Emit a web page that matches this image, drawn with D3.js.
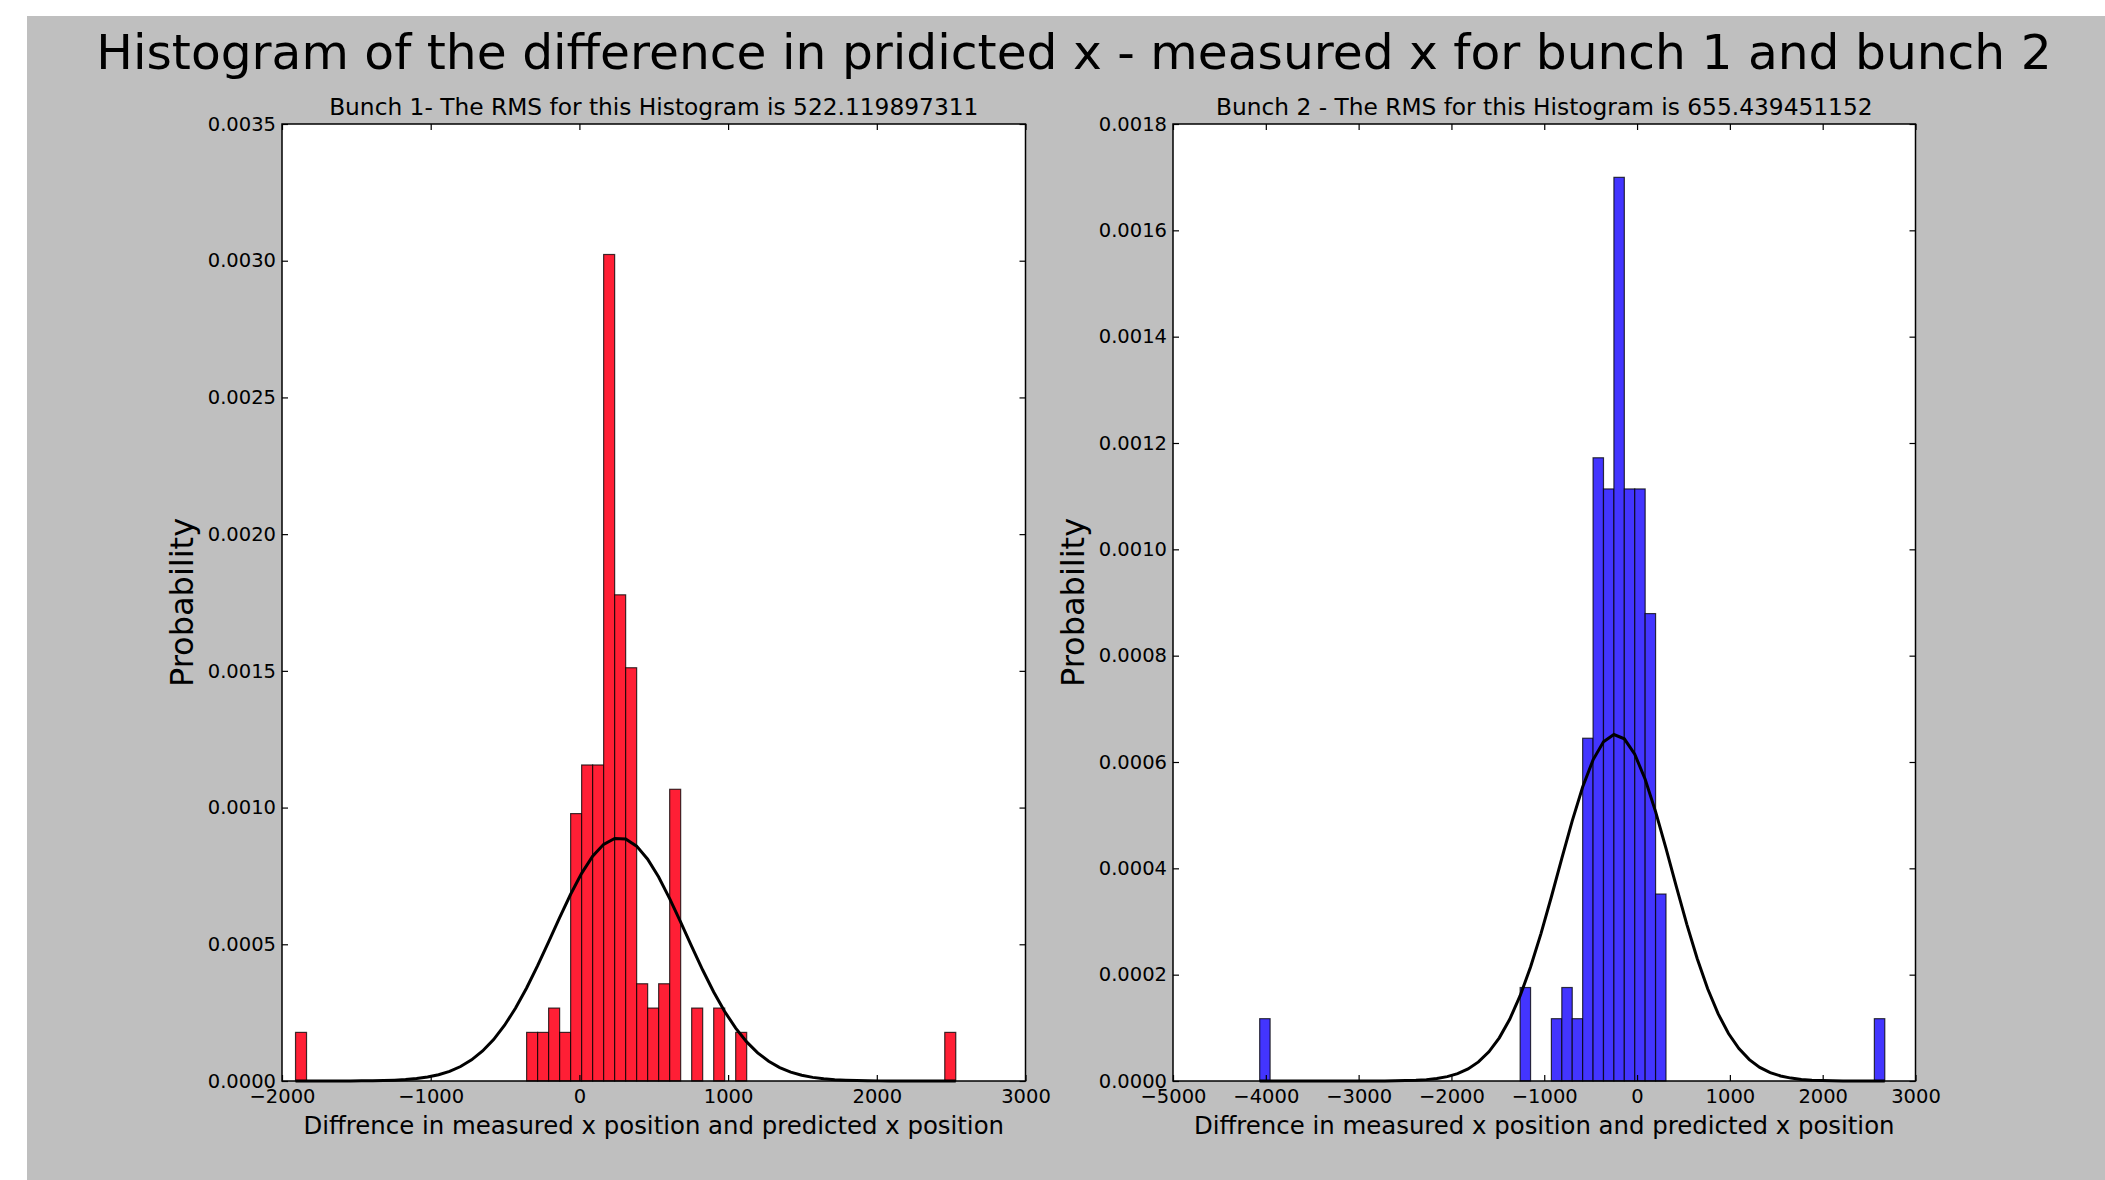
<!DOCTYPE html>
<html>
<head>
<meta charset="utf-8">
<script src="https://cdn.jsdelivr.net/npm/d3@7"></script>
<style>
  body { margin: 0; background: #fff; }
  svg { display: block; font-family: "DejaVu Sans", sans-serif; }
</style>
</head>
<body>
<svg id="chart" width="2105" height="1180"></svg>
<script>
const suptitle = "Histogram of the difference in pridicted x - measured x for bunch 1 and bunch 2";
const xLabel = "Diffrence in measured x position and predicted x position";
const yLabel = "Probability";

// bunch 1: 60 bins between min and max of the data
const bunch1Title = "Bunch 1- The RMS for this Histogram is 522.119897311";
const bunch1Range = [-1909, 2531];
const bunch1Counts = [
  2, 0, 0, 0, 0, 0, 0, 0, 0, 0,
  0, 0, 0, 0, 0, 0, 0, 0, 0, 0,
  0, 2, 2, 3, 2, 11, 13, 13, 34, 20,
  17, 4, 3, 4, 12, 0, 3, 0, 3, 0,
  2, 0, 0, 0, 0, 0, 0, 0, 0, 0,
  0, 0, 0, 0, 0, 0, 0, 0, 0, 2
];
const bunch1Mu = 267;
const bunch1Sigma = 448.7;
const bunch1XTicks = [-2000, -1000, 0, 1000, 2000, 3000];
const bunch1YTicks = [0, 0.0005, 0.0010, 0.0015, 0.0020, 0.0025, 0.0030, 0.0035];

// bunch 2
const bunch2Title = "Bunch 2 - The RMS for this Histogram is 655.439451152";
const bunch2Range = [-4066, 2669];
const bunch2Counts = [
  2, 0, 0, 0, 0, 0, 0, 0, 0, 0,
  0, 0, 0, 0, 0, 0, 0, 0, 0, 0,
  0, 0, 0, 0, 0, 3, 0, 0, 2, 3,
  2, 11, 20, 19, 29, 19, 19, 15, 6, 0,
  0, 0, 0, 0, 0, 0, 0, 0, 0, 0,
  0, 0, 0, 0, 0, 0, 0, 0, 0, 2
];
const bunch2Mu = -235;
const bunch2Sigma = 612;
const bunch2XTicks = [-5000, -4000, -3000, -2000, -1000, 0, 1000, 2000, 3000];
const bunch2YTicks = [0, 0.0002, 0.0004, 0.0006, 0.0008, 0.0010, 0.0012, 0.0014, 0.0016, 0.0018];

const svg = d3.select("#chart");

svg.append("rect")
    .attr("x", 27).attr("y", 16)
    .attr("width", 2105 - 27).attr("height", 1180 - 16)
    .attr("fill", "#bfbfbf");

svg.append("text")
    .attr("x", 1074).attr("y", 69)
    .attr("text-anchor", "middle")
    .attr("font-size", 48.7)
    .attr("fill", "#000")
    .text(suptitle);

const normpdf = (x, mu, sigma) =>
  Math.exp(-0.5 * ((x - mu) / sigma) ** 2) / (sigma * Math.sqrt(2 * Math.PI));

const drawPanel = (p) => {
  const x = d3.scaleLinear().domain(p.xDomain).range([p.left, p.right]);
  const y = d3.scaleLinear().domain(p.yDomain).range([p.bottom, p.top]);

  const n = p.counts.length;
  const total = d3.sum(p.counts);
  const w = (p.range[1] - p.range[0]) / n;
  const edges = d3.range(n + 1).map(i => p.range[0] + i * w);
  const bins = p.counts.map((c, i) => ({ x0: edges[i], x1: edges[i + 1], d: c / (total * w) }));

  const g = svg.append("g");

  g.append("rect")
      .attr("x", p.left).attr("y", p.top)
      .attr("width", p.right - p.left).attr("height", p.bottom - p.top)
      .attr("fill", "#fff");

  g.append("g")
    .selectAll("rect")
    .data(bins)
    .enter().append("rect")
      .attr("x", d => x(d.x0))
      .attr("y", d => y(d.d))
      .attr("width", d => x(d.x1) - x(d.x0))
      .attr("height", d => y(0) - y(d.d))
      .attr("fill", p.color)
      .attr("stroke", "rgba(0,0,0,0.75)")
      .attr("stroke-width", 1.2);

  const line = d3.line()
      .x(d => x(d))
      .y(d => y(normpdf(d, p.mu, p.sigma)));

  g.append("path")
      .datum(edges)
      .attr("d", line)
      .attr("fill", "none")
      .attr("stroke", "#000")
      .attr("stroke-width", 3);

  // axes, ticks pointing inward on all four sides
  const fmtX = d3.format("d");
  const fmtY = d3.format(".4f");

  const bottom = g.append("g")
      .attr("transform", `translate(0,${p.bottom})`)
      .call(d3.axisBottom(x).tickValues(p.xTicks).tickFormat(fmtX)
        .tickSizeInner(-6).tickSizeOuter(0).tickPadding(8));
  const left = g.append("g")
      .attr("transform", `translate(${p.left},0)`)
      .call(d3.axisLeft(y).tickValues(p.yTicks).tickFormat(fmtY)
        .tickSizeInner(-6).tickSizeOuter(0).tickPadding(6));
  const top = g.append("g")
      .attr("transform", `translate(0,${p.top})`)
      .call(d3.axisTop(x).tickValues(p.xTicks).tickFormat("")
        .tickSizeInner(-6).tickSizeOuter(0));
  const right = g.append("g")
      .attr("transform", `translate(${p.right},0)`)
      .call(d3.axisRight(y).tickValues(p.yTicks).tickFormat("")
        .tickSizeInner(-6).tickSizeOuter(0));

  [bottom, left, top, right].forEach(a => {
    a.select(".domain").remove();
    a.selectAll("line").attr("stroke", "#000").attr("stroke-width", 1.2);
    a.selectAll("text")
        .attr("fill", "#000")
        .attr("font-size", 19.5)
        .attr("font-family", "DejaVu Sans, sans-serif");
  });

  g.append("rect")
      .attr("x", p.left).attr("y", p.top)
      .attr("width", p.right - p.left).attr("height", p.bottom - p.top)
      .attr("fill", "none")
      .attr("stroke", "#000")
      .attr("stroke-width", 1.5);

  g.append("text")
      .attr("x", (p.left + p.right) / 2).attr("y", p.top - 9)
      .attr("text-anchor", "middle")
      .attr("font-size", 23.3)
      .text(p.title);

  g.append("text")
      .attr("x", (p.left + p.right) / 2).attr("y", p.bottom + 53)
      .attr("text-anchor", "middle")
      .attr("font-size", 24.4)
      .text(xLabel);

  g.append("text")
      .attr("transform", `translate(${p.left - 89},${(p.top + p.bottom) / 2}) rotate(-90)`)
      .attr("text-anchor", "middle")
      .attr("font-size", 32)
      .text(yLabel);
};

drawPanel({
  left: 282, right: 1025.5, top: 124, bottom: 1081,
  xDomain: [-2000, 3000], yDomain: [0, 0.0035],
  range: bunch1Range, counts: bunch1Counts,
  mu: bunch1Mu, sigma: bunch1Sigma,
  xTicks: bunch1XTicks, yTicks: bunch1YTicks,
  color: "#ff1f35", title: bunch1Title
});

drawPanel({
  left: 1173, right: 1915.5, top: 124, bottom: 1081,
  xDomain: [-5000, 3000], yDomain: [0, 0.0018],
  range: bunch2Range, counts: bunch2Counts,
  mu: bunch2Mu, sigma: bunch2Sigma,
  xTicks: bunch2XTicks, yTicks: bunch2YTicks,
  color: "#4335ff", title: bunch2Title
});
</script>
</body>
</html>
